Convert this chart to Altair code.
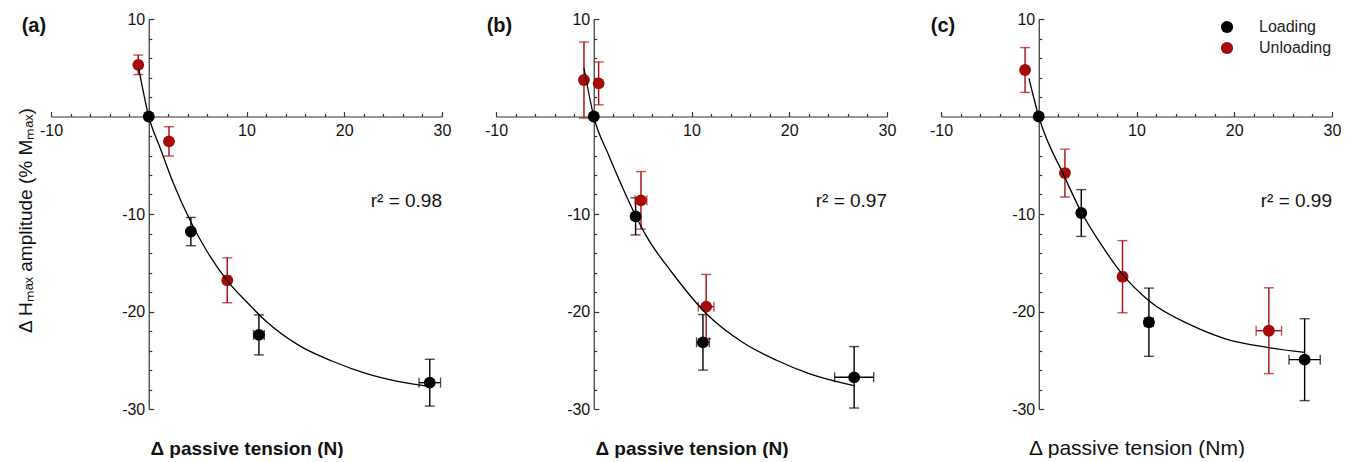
import altair as alt
import pandas as pd

FONT = "Liberation Sans"
RED = "#a50b0b"
BLACK = "#000000"
AXIS_COLOR = "#333333"

# ---------------- data ----------------
SERIES_NAMES = ["Loading", "Unloading"]

# panel (a)
A_X = [-1.07, 0.0, 2.07, 4.31, 8.03, 11.27, 28.75]
A_Y = [5.3, 0.0, -2.55, -11.8, -16.8, -22.4, -27.3]
A_YERR = [1.0, 0.0, 1.5, 1.45, 2.3, 2.05, 2.4]
A_XERR = [0.0, 0.0, 0.0, 0.0, 0.3, 0.55, 1.1]
A_SERIES = ["Unloading", "Loading", "Unloading", "Loading", "Unloading", "Loading", "Loading"]
A_FIT_X = [-1.0, 0.0, 1.2, 2.5, 4.3, 6.0, 8.0, 10.0, 12.0, 15.4, 18.8, 22.2, 25.6, 28.8]
A_FIT_Y = [4.8, 0.0, -3.3, -6.8, -10.8, -13.9, -16.8, -19.0, -21.0, -23.5, -25.1, -26.35, -27.2, -27.7]

# panel (b)
B_X = [-1.0, 0.5, 0.0, 4.83, 4.28, 11.5, 11.17, 26.64]
B_Y = [3.74, 3.4, 0.0, -8.6, -10.24, -19.5, -23.16, -26.75]
B_YERR = [3.9, 2.2, 0.0, 2.95, 1.9, 3.3, 2.85, 3.15]
B_XERR = [0.0, 0.0, 0.0, 0.6, 0.0, 0.8, 0.65, 2.0]
B_SERIES = ["Unloading", "Unloading", "Loading", "Unloading", "Loading", "Unloading", "Loading", "Loading"]
B_FIT_X = [-1.0, 0.0, 1.5, 3.0, 4.3, 5.4, 8.0, 11.5, 15.3, 18.7, 22.1, 26.6]
B_FIT_Y = [5.0, 0.0, -3.9, -7.4, -10.2, -12.3, -16.0, -20.2, -23.2, -25.0, -26.4, -27.6]

# panel (c)
C_X = [-1.4, 0.0, 2.68, 4.35, 8.57, 11.27, 23.54, 27.2]
C_Y = [4.77, 0.0, -5.8, -9.9, -16.43, -21.1, -21.97, -24.94]
C_YERR = [2.3, 0.0, 2.45, 2.4, 3.7, 3.5, 4.4, 4.2]
C_XERR = [0.0, 0.0, 0.0, 0.0, 0.3, 0.45, 1.3, 1.6]
C_SERIES = ["Unloading", "Loading", "Unloading", "Loading", "Unloading", "Loading", "Unloading", "Loading"]
C_FIT_X = [-1.0, 0.0, 2.6, 4.35, 6.5, 8.57, 11.27, 15.7, 19.1, 23.5, 27.2]
C_FIT_Y = [3.9, 0.0, -6.1, -9.8, -13.3, -16.2, -18.9, -21.45, -22.8, -23.7, -24.2]

R2_LABELS = ["r² = 0.98", "r² = 0.97", "r² = 0.99"]
PANEL_LABELS = ["(a)", "(b)", "(c)"]
X_TITLES = ["Δ passive tension (N)", "Δ passive tension (N)", "Δ passive tension (Nm)"]
Y_TITLE = "Δ Hₘₐₓ amplitude (% Mₘₐₓ)"

X_DOMAIN = [-10, 30]
Y_DOMAIN = [-30, 10]
X_TICKS = list(range(-10, 31, 2))
Y_TICKS = list(range(-30, 11, 2))

# ---------------- layout ----------------
W, H = 391, 390
X0_PX = W * (0 - X_DOMAIN[0]) / (X_DOMAIN[1] - X_DOMAIN[0])   # pixel of x = 0
Y0_PX = H * (Y_DOMAIN[1] - 0) / (Y_DOMAIN[1] - Y_DOMAIN[0])   # pixel of y = 0

LABEL_EXPR = "(datum.value % 10 === 0 && datum.value !== 0) ? ('' + datum.value) : ''"
TICK_SIZE = {"condition": {"test": "datum.value % 10 === 0", "value": 5}, "value": 3}

xscale = alt.Scale(domain=X_DOMAIN, nice=False, zero=False)
yscale = alt.Scale(domain=Y_DOMAIN, nice=False, zero=False)
cscale = alt.Scale(domain=SERIES_NAMES, range=[BLACK, RED])


def make_x_axis(title, bold, tsize):
    return alt.Axis(
        orient="top", offset=-Y0_PX, values=X_TICKS, labelExpr=LABEL_EXPR,
        tickSize=TICK_SIZE, tickColor=AXIS_COLOR, tickWidth=1.2,
        domainColor=AXIS_COLOR, domainWidth=1.2, grid=False,
        labelPadding=-11, labelBaseline="top", labelFlush=False, labelOverlap=False,
        labelFont=FONT, labelFontSize=16, labelColor="#111111",
        title=title, titleX=W / 2, titleY=(H - Y0_PX) + 39, titleAngle=0,
        titleAlign="center", titleBaseline="middle", titleFont=FONT,
        titleFontSize=tsize, titleFontWeight="bold" if bold else "normal", titleColor="#111111",
    )


def make_y_axis(title):
    return alt.Axis(
        orient="right", offset=X0_PX - W, values=Y_TICKS, labelExpr=LABEL_EXPR,
        tickSize=TICK_SIZE, tickColor=AXIS_COLOR, tickWidth=1.2,
        domainColor=AXIS_COLOR, domainWidth=1.2, grid=False,
        labelPadding=-9, labelAlign="right", labelBaseline="middle",
        labelFlush=False, labelOverlap=False,
        labelFont=FONT, labelFontSize=16, labelColor="#111111",
        title=title, titleX=-X0_PX - 26, titleY=H / 2 + 6, titleAngle=270,
        titleAlign="center", titleBaseline="middle", titleFont=FONT,
        titleFontSize=19, titleFontWeight="normal", titleColor="#111111",
    )


def panel(x, y, yerr, xerr, series, fit_x, fit_y, r2, label, label_x, xtitle, xbold, xtsize,
          ytitle, legend):
    pts = pd.DataFrame({"x": x, "y": y, "yerr": yerr, "xerr": xerr, "series": series})
    pts["ylo"] = pts["y"] - pts["yerr"]
    pts["yhi"] = pts["y"] + pts["yerr"]
    pts["xlo"] = pts["x"] - pts["xerr"]
    pts["xhi"] = pts["x"] + pts["xerr"]
    fit = pd.DataFrame({"x": fit_x, "y": fit_y})
    ann = pd.DataFrame({"x": [30], "y": [-8.7], "t": [r2]})
    lab = pd.DataFrame({"x": [label_x], "y": [9.3], "t": [label]})

    xaxis = make_x_axis(xtitle, xbold, xtsize)
    yaxis = make_y_axis(ytitle)
    # identical axis / legend definitions on every layer so they merge cleanly
    xq = lambda f: alt.X(f, type="quantitative", scale=xscale, axis=xaxis)
    yq = lambda f: alt.Y(f, type="quantitative", scale=yscale, axis=yaxis)
    if legend:
        leg = alt.Legend(orient="top-right", offset=0, title=None, labelFont=FONT,
                         labelFontSize=16, labelColor="#222222", symbolSize=150,
                         symbolType="circle", symbolOpacity=1, labelOffset=24, rowPadding=5,
                         padding=0, symbolStrokeWidth=0)
    else:
        leg = None
    col = alt.Color("series:N", scale=cscale, legend=leg)

    base = alt.Chart(pts)
    vdat = base.transform_filter("datum.yerr > 0")
    vrule = vdat.mark_rule(strokeWidth=1.4).encode(x=xq("x"), y=yq("ylo"), y2="yhi:Q", color=col)
    vcap_lo = vdat.mark_tick(orient="horizontal", size=10, thickness=1.4).encode(
        x=xq("x"), y=yq("ylo"), color=col)
    vcap_hi = vdat.mark_tick(orient="horizontal", size=10, thickness=1.4).encode(
        x=xq("x"), y=yq("yhi"), color=col)

    hdat = base.transform_filter("datum.xerr > 0")
    hrule = hdat.mark_rule(strokeWidth=1.4).encode(x=xq("xlo"), x2="xhi:Q", y=yq("y"), color=col)
    hcap_lo = hdat.mark_tick(orient="vertical", size=10, thickness=1.4).encode(
        x=xq("xlo"), y=yq("y"), color=col)
    hcap_hi = hdat.mark_tick(orient="vertical", size=10, thickness=1.4).encode(
        x=xq("xhi"), y=yq("y"), color=col)

    points = base.mark_circle(size=140, opacity=1).encode(x=xq("x"), y=yq("y"), color=col)
    curve = alt.Chart(fit).mark_line(color="#000000", strokeWidth=1.3, interpolate="monotone").encode(
        x=xq("x"), y=yq("y"),
    )
    r2text = alt.Chart(ann).mark_text(align="right", baseline="middle", font=FONT, fontSize=19,
                                      color="#111111").encode(x=xq("x"), y=yq("y"), text="t:N")
    ptext = alt.Chart(lab).mark_text(align="left", baseline="middle", font=FONT, fontSize=20,
                                     fontWeight="bold", color="#111111").encode(
        x=xq("x"), y=yq("y"), text="t:N")
    return alt.layer(vrule, vcap_lo, vcap_hi, hrule, hcap_lo, hcap_hi, points, curve, r2text,
                     ptext).properties(width=W, height=H)


pa = panel(A_X, A_Y, A_YERR, A_XERR, A_SERIES, A_FIT_X, A_FIT_Y, R2_LABELS[0], PANEL_LABELS[0],
           -13.0, X_TITLES[0], True, 19, Y_TITLE, False)
pb = panel(B_X, B_Y, B_YERR, B_XERR, B_SERIES, B_FIT_X, B_FIT_Y, R2_LABELS[1], PANEL_LABELS[1],
           -10.95, X_TITLES[1], True, 19, "", False)
pc = panel(C_X, C_Y, C_YERR, C_XERR, C_SERIES, C_FIT_X, C_FIT_Y, R2_LABELS[2], PANEL_LABELS[2],
           -11.05, X_TITLES[2], False, 21, "", True)

chart = alt.hconcat(pa, pb, pc, spacing=33).resolve_scale(color="independent").properties(
    padding={"left": 8, "top": 3, "right": 0, "bottom": 0}, background="white"
).configure_view(strokeWidth=0)

chart.save("out.html", embed_options={"renderer": "svg", "actions": False})
